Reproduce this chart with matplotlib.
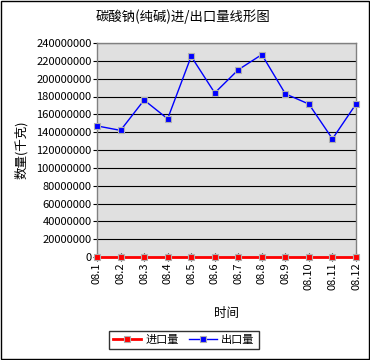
import matplotlib
matplotlib.use("Agg")
import matplotlib.pyplot as plt
from matplotlib.ticker import FuncFormatter

plt.rcParams['font.family'] = ['Noto Sans CJK SC', 'DejaVu Sans']

months = ['08.1', '08.2', '08.3', '08.4', '08.5', '08.6',
          '08.7', '08.8', '08.9', '08.10', '08.11', '08.12']
# import quantity (kg)
imports = [0, 0, 0, 0, 0, 0, 0, 0, 0, 0, 0, 0]
# export quantity (kg)
exports = [147000000, 142000000, 176000000, 155000000, 225000000, 184000000,
           210000000, 227000000, 183000000, 171500000, 132500000, 171500000]

fig = plt.figure(figsize=(3.7, 3.6), dpi=100)
fig.patch.set_facecolor('white')
fig.patches.append(plt.Rectangle((0.002, 0.002), 0.995, 0.995, transform=fig.transFigure,
                                 fill=False, edgecolor='black', linewidth=1))

ax = fig.add_axes([97 / 370, 1 - 257 / 360, 259 / 370, 214 / 360])
ax.set_facecolor('#E0E0E0')

x = list(range(len(months)))
ax.plot(x, imports, color='red', linewidth=2, marker='s', markersize=5,
        markerfacecolor='red', markeredgecolor='#B0B0B0', markeredgewidth=0.8,
        label='进口量', clip_on=False, zorder=3)
ax.plot(x, exports, color='blue', linewidth=1, marker='s', markersize=5,
        markerfacecolor='blue', markeredgecolor='#B0B0B0', markeredgewidth=0.8,
        label='出口量', clip_on=False, zorder=3)

ax.set_xlim(0, 11)
ax.set_ylim(0, 240000000)
ax.set_yticks(range(0, 240000001, 20000000))
ax.yaxis.set_major_formatter(FuncFormatter(lambda v, p: '%d' % v))
ax.grid(True, axis='y', color='black', linewidth=0.8)
ax.set_axisbelow(True)
ax.set_xticks(x)
ax.set_xticklabels(months, rotation=90)
ax.tick_params(axis='x', direction='inout', length=6, labelsize=8, pad=1)
ax.tick_params(axis='y', direction='out', length=3, labelsize=8, pad=1)
for s in ax.spines.values():
    s.set_color('#808080')
    s.set_linewidth(1)

fig.suptitle('碳酸钠(纯碱)进/出口量线形图', x=183 / 370, y=1 - 17 / 360,
             va='center', fontsize=9.6)
ax.set_xlabel('时间', fontsize=9, labelpad=12)
ax.set_ylabel('数量(千克)', fontsize=9, labelpad=6)

leg = fig.legend(loc='center', bbox_to_anchor=(184 / 370, 1 - 340 / 360), ncol=2,
                 fontsize=8, frameon=True, fancybox=False, edgecolor='black',
                 handlelength=2.5, handletextpad=0.4, columnspacing=0.9,
                 borderpad=0.4)
leg.get_frame().set_linewidth(1)

fig.savefig('out.png', dpi=100)
